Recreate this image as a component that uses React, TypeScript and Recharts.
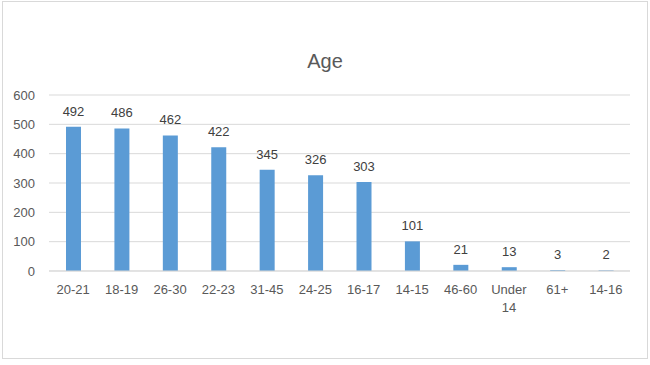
import React from "react";
import { BarChart, Bar, XAxis, YAxis, CartesianGrid, LabelList } from "recharts";

const categories = ["20-21", "18-19", "26-30", "22-23", "31-45", "24-25", "16-17", "14-15", "46-60", "Under 14", "61+", "14-16"];
const counts = [492, 486, 462, 422, 345, 326, 303, 101, 21, 13, 3, 2];
const yTicks = [0, 100, 200, 300, 400, 500, 600];

const data = categories.map((c, i) => ({ name: c, value: counts[i] }));

const FONT = "'Liberation Sans', Arial, sans-serif";

const XTick = (props: any) => {
  const { x, y, payload } = props;
  const label: string = payload.value;
  const lines = label.includes(" ") ? label.split(" ") : [label];
  return (
    <text x={x} y={y} textAnchor="middle" fill="#595959" fontSize={13} fontFamily={FONT}>
      {lines.map((l, i) => (
        <tspan key={i} x={x} dy={i === 0 ? "0.71em" : 18}>
          {l}
        </tspan>
      ))}
    </text>
  );
};

export default function App() {
  return (
    <div style={{ position: "absolute", left: 0, top: 0, width: 650, height: 365, background: "#fff" }}>
      <div
        style={{
          position: "absolute",
          left: 2,
          top: 1,
          width: 646,
          height: 358,
          border: "1px solid #d9d9d9",
          boxSizing: "border-box",
        }}
      />
      <div
        style={{
          position: "absolute",
          left: 0,
          top: 49,
          width: 650,
          textAlign: "center",
          fontFamily: FONT,
          fontSize: 20,
          color: "#595959",
          lineHeight: "24px",
        }}
      >
        Age
      </div>
      <div style={{ position: "absolute", left: 0, top: 0 }}>
        <BarChart
          width={650}
          height={365}
          data={data}
          margin={{ top: 95, right: 20, bottom: 0, left: 0 }}
          barCategoryGap={0}
        >
          <CartesianGrid vertical={false} stroke="#d9d9d9" />
          <XAxis
            dataKey="name"
            interval={0}
            height={94}
            tickLine={false}
            axisLine={{ stroke: "#d9d9d9" }}
            tickMargin={8}
            tick={<XTick />}
          />
          <YAxis
            width={49}
            domain={[0, 600]}
            ticks={yTicks}
            tickLine={false}
            axisLine={false}
            tickMargin={8}
            tick={{ fill: "#595959", fontSize: 13, fontFamily: FONT }}
          />
          <Bar dataKey="value" fill="#5b9bd5" barSize={15} isAnimationActive={false}>
            <LabelList
              dataKey="value"
              position="top"
              offset={11}
              fill="#404040"
              fontSize={13}
              fontFamily={FONT}
            />
          </Bar>
        </BarChart>
      </div>
    </div>
  );
}
